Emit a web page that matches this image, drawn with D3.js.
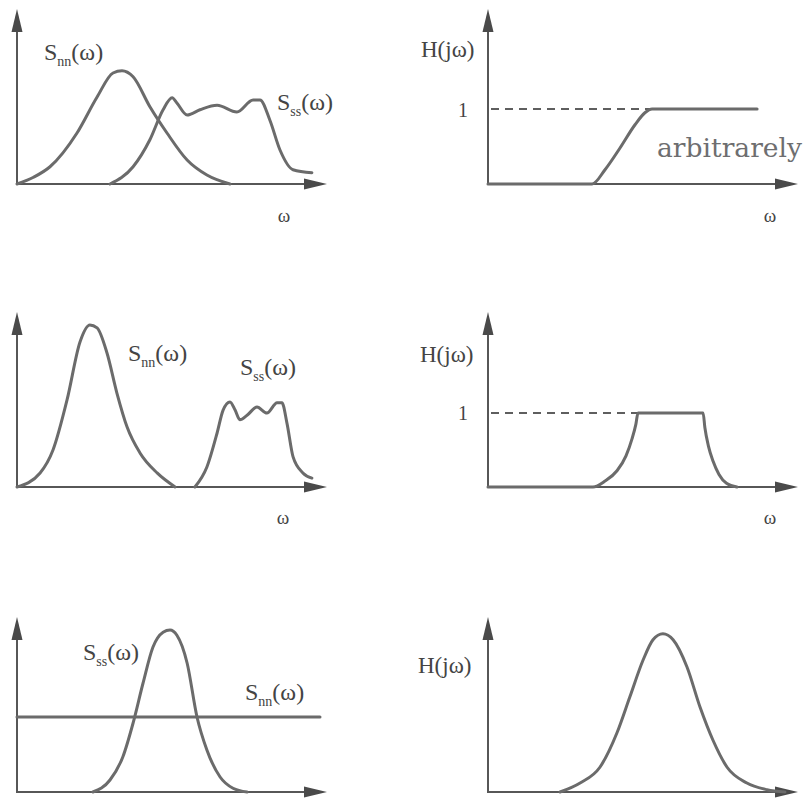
<!DOCTYPE html>
<html lang="en">
<head>
    <meta charset="UTF-8">
    <style>
        body { margin: 0; background: #fff; }
        .curve { fill: none; stroke: #6b6b6b; stroke-width: 3; stroke-linejoin: round; stroke-linecap: round; }
        .axis { fill: none; stroke: #575757; stroke-width: 2; }
        .arrow { fill: #4a4a4a; }
        .dash { fill: none; stroke: #5e5e5e; stroke-width: 2; stroke-dasharray: 8,6; }
        .lbl { font-family: "Liberation Serif", "Times New Roman", serif; fill: #444; }
        .note { font-family: "DejaVu Serif", serif; fill: #6e6e70; }
    </style>
    <title>Spectra and filters</title>
    <script src="https://cdn.jsdelivr.net/npm/d3@7/dist/d3.min.js"></script>
</head>
<body>
<script type="text/javascript">
// spectra, [omega, value] (omega in 0..10, value: 1 = the "1" level)
var snnTop = [[0,0],[0.55,0.09],[1.1,0.23],[2.0,0.68],[2.67,1.16],[3.2,1.48],[3.5,1.51],[3.87,1.43],[4.43,1.03],[5.0,0.68],[5.67,0.32],[6.33,0.12],[7.1,0]];
var sssTop = [[3.1,0],[3.87,0.23],[4.43,0.59],[4.87,0.99],[5.17,1.15],[5.33,1.08],[5.67,0.92],[6.1,0.99],[6.67,1.05],[7.33,0.96],[7.87,1.12],[8.1,1.12],[8.43,0.85],[8.77,0.45],[9.2,0.19],[9.83,0.15]];
var hTop = [[0,0],[3.47,0],[3.9,0.19],[4.4,0.48],[4.9,0.79],[5.23,0.95],[5.47,1],[8.97,1]];

var snnMid = [[0,0],[0.77,0.19],[1.2,0.5],[1.67,1.18],[2.1,1.96],[2.43,2.19],[2.67,2.15],[3.0,1.81],[3.33,1.27],[3.67,0.81],[4.1,0.46],[4.67,0.19],[5.27,0]];
var sssMid = [[5.93,0],[6.33,0.27],[6.67,0.73],[6.87,1.04],[7.1,1.15],[7.27,1.04],[7.43,0.91],[7.67,0.97],[8.0,1.08],[8.33,1.0],[8.67,1.14],[8.83,1.14],[9.0,0.86],[9.2,0.41],[9.53,0.19],[9.83,0.12]];
var hMid = [[0,0],[3.5,0],[3.9,0.08],[4.3,0.22],[4.6,0.42],[4.8,0.65],[4.93,0.85],[5.0,1],[7.17,1],[7.23,0.8],[7.35,0.55],[7.5,0.35],[7.7,0.17],[7.95,0.05],[8.3,0]];

var snnBot = [[0,1],[10.1,1]];
var sssBot = [[2.53,0],[3.1,0.16],[3.53,0.47],[3.87,0.92],[4.2,1.45],[4.53,1.93],[4.87,2.13],[5.1,2.16],[5.33,2.09],[5.67,1.72],[6.0,1.0],[6.33,0.56],[6.77,0.2],[7.2,0.05],[7.67,0]];
var hBot = [[2.4,0],[3.07,0.12],[3.73,0.33],[4.3,0.79],[4.73,1.27],[5.17,1.76],[5.5,2.03],[5.83,2.11],[6.17,2.03],[6.63,1.67],[7.07,1.13],[7.5,0.69],[7.97,0.33],[8.63,0.12],[9.3,0.03],[9.9,0]];

var W = 805, H = 800;
var svg = d3.select("body").append("svg").attr("width", W).attr("height", H);

// layout of the six panels
var panels = [
    { x0: 17,  y0: 184, unit: 75, curves: [snnTop, sssTop] },
    { x0: 488, y0: 184, unit: 75, curves: [hTop], one: 5.47 },
    { x0: 17,  y0: 487, unit: 74, curves: [snnMid, sssMid] },
    { x0: 488, y0: 487, unit: 74, curves: [hMid], one: 5.0 },
    { x0: 17,  y0: 792, unit: 75, curves: [snnBot, sssBot] },
    { x0: 488, y0: 792, unit: 75, curves: [hBot] }
];

panels.forEach(function(p) {
    var x = d3.scaleLinear().domain([0, 10]).range([p.x0, p.x0 + 300]);
    var y = d3.scaleLinear().domain([0, 1]).range([p.y0, p.y0 - p.unit]);
    var g = svg.append("g");

    var tipX = p.x0 + 310, tipY = p.y0 - 175;
    g.append("line").attr("class", "axis").attr("x1", p.x0).attr("y1", p.y0 + 1).attr("x2", p.x0).attr("y2", tipY + 18);
    g.append("line").attr("class", "axis").attr("x1", p.x0 - 1).attr("y1", p.y0).attr("x2", tipX - 18).attr("y2", p.y0);
    g.append("path").attr("class", "arrow")
        .attr("d", "M" + p.x0 + "," + tipY + "L" + (p.x0 + 5.5) + "," + (tipY + 23) + "L" + (p.x0 - 5.5) + "," + (tipY + 23) + "Z");
    g.append("path").attr("class", "arrow")
        .attr("d", "M" + tipX + "," + p.y0 + "L" + (tipX - 23) + "," + (p.y0 - 5.5) + "L" + (tipX - 23) + "," + (p.y0 + 5.5) + "Z");

    if (p.one) {
        g.append("line").attr("class", "dash")
            .attr("x1", x(0) + 3).attr("x2", x(p.one)).attr("y1", y(1)).attr("y2", y(1));
    }

    var line = d3.line()
        .x(function(d) { return x(d[0]); })
        .y(function(d) { return y(d[1]); })
        .curve(d3.curveMonotoneX);
    p.curves.forEach(function(c) {
        g.append("path").attr("class", "curve").attr("d", line(c));
    });
});

// labels
function spec(px, py, sub) {
    var t = svg.append("text").attr("class", "lbl").attr("x", px).attr("y", py).style("font-size", "24px");
    t.append("tspan").text("S");
    t.append("tspan").attr("dy", 6).style("font-size", "14px").text(sub);
    t.append("tspan").attr("dy", -6).text("(ω)");
}
spec(44, 60, "nn");
spec(277, 110, "ss");
spec(128, 361, "nn");
spec(240, 375, "ss");
spec(83, 660, "ss");
spec(245, 700, "nn");

[[421, 57], [420, 362], [418, 673]].forEach(function(d) {
    svg.append("text").attr("class", "lbl").attr("x", d[0]).attr("y", d[1]).style("font-size", "23px").text("H(jω)");
});
[[463, 117], [463, 420]].forEach(function(d) {
    svg.append("text").attr("class", "lbl").attr("x", d[0]).attr("y", d[1]).attr("text-anchor", "middle").style("font-size", "20px").text("1");
});
[[284, 222], [770, 222], [283, 524], [770, 524]].forEach(function(d) {
    svg.append("text").attr("class", "lbl").attr("x", d[0]).attr("y", d[1]).attr("text-anchor", "middle").style("font-size", "19px").text("ω");
});
svg.append("text").attr("class", "note").attr("x", 657).attr("y", 157)
    .style("font-size", "26px").attr("textLength", 145).attr("lengthAdjust", "spacingAndGlyphs").text("arbitrarely");
</script>
</body>
</html>
